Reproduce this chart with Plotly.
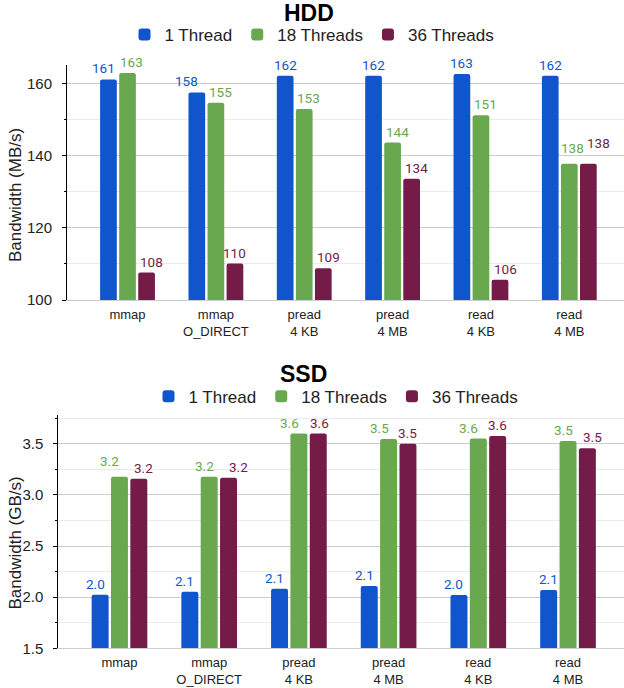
import plotly.graph_objects as go

categories = ["mmap", "mmap<br>O_DIRECT", "pread<br>4 KB", "pread<br>4 MB", "read<br>4 KB", "read<br>4 MB"]
series_names = ["1 Thread", "18 Threads", "36 Threads"]
colors = ["#1155cc", "#6aa84f", "#741b47"]

hdd_1 = [161.1, 157.5, 162.1, 162.1, 162.6, 162.1]
hdd_18 = [162.9, 154.6, 152.9, 143.6, 151.2, 137.7]
hdd_36 = [107.6, 110.1, 108.8, 133.6, 105.6, 137.7]

ssd_1 = [2.024, 2.053, 2.083, 2.109, 2.021, 2.070]
ssd_18 = [3.177, 3.177, 3.600, 3.546, 3.551, 3.526]
ssd_36 = [3.158, 3.168, 3.600, 3.500, 3.575, 3.455]

# label nudges in pixels (collision avoidance as in the reference)
hdd_dx = [[-5, -10, 0, 0, 0, 0], [4, 5, 4, 5, 4.5, 3], [5, 0, 5, 5, 5, 10]]
hdd_dy = [[0, 0, 0, 0, 0, 0], [0, 0, 0, 0, 0, 4.5], [0, 0, 0, 0, 0, 9.5]]
ssd_dx = [[-5, -5, -5, -5, -5, 0], [-10, -5, -9.5, -9.5, -9.5, -4.5], [5, 10, 1, 0, 0, 5]]
ssd_dy = [[0, 0, 0, 0, 0, 0], [4.5, 0, 0, 0, 0, 0], [0, 0, 0, 0, 0, 0]]

W, H = 624, 688
FONT = "Liberation Sans, Arial, sans-serif"
TXT = "#222222"
BARGAP = 0.353
GROUPGAP = 0.123
slot = (1 - BARGAP) / 3

fig = go.Figure()
annotations = []

def add_panel(series, xa, ya, legend, fmt, dxs, dys):
    for k, (name, vals, col) in enumerate(zip(series_names, series, colors)):
        fig.add_trace(go.Bar(
            x=categories, y=vals, name=name,
            marker=dict(color=col, cornerradius=2, line=dict(width=0)),
            xaxis=xa, yaxis=ya, legend=legend, hoverinfo="skip"))
        for i, v in enumerate(vals):
            annotations.append(dict(
                x=i + (k - 1) * slot, y=v, xref=xa, yref=ya,
                text=fmt.format(v), showarrow=False, xanchor="center", yanchor="bottom",
                xshift=dxs[k][i], yshift=1 + dys[k][i],
                font=dict(family="Roboto", size=13.5, color=col)))

add_panel([hdd_1, hdd_18, hdd_36], "x", "y", "legend", "{:.0f}", hdd_dx, hdd_dy)
add_panel([ssd_1, ssd_18, ssd_36], "x2", "y2", "legend2", "{:.1f}", ssd_dx, ssd_dy)

hdd_dom = [1 - 300 / H, 1 - 65.3 / H]
ssd_dom = [1 - 648.3 / H, 1 - 415.1 / H]

xcommon = dict(type="category", showgrid=False, zeroline=False, ticks="", showline=True,
               linecolor="#cccccc", linewidth=1, tickfont=dict(family=FONT, size=13, color=TXT),
               automargin=False, fixedrange=True, ticklabelstandoff=2)

ycommon = dict(showline=True, linecolor="black", linewidth=1, ticks="outside", ticklen=4,
               tickcolor="black", tickwidth=1, showgrid=True, gridcolor="#cccccc", gridwidth=1,
               zeroline=False, tickfont=dict(family=FONT, size=15, color=TXT),
               automargin=False, ticklabelstandoff=7, fixedrange=True)

annotations += [
    dict(text="<b>HDD</b>", x=309 / W, y=1 - 13.5 / H, xref="paper", yref="paper",
         xanchor="center", yanchor="middle", showarrow=False,
         font=dict(family=FONT, size=23, color="black")),
    dict(text="<b>SSD</b>", x=303.5 / W, y=1 - 373.5 / H, xref="paper", yref="paper",
         xanchor="center", yanchor="middle", showarrow=False,
         font=dict(family=FONT, size=23, color="black")),
    dict(text="Bandwidth (MB/s)", x=15.5 / W, y=1 - 195.5 / H, xref="paper", yref="paper",
         xanchor="center", yanchor="middle", showarrow=False, textangle=-90,
         font=dict(family=FONT, size=17, color=TXT)),
    dict(text="Bandwidth (GB/s)", x=15 / W, y=1 - 543.5 / H, xref="paper", yref="paper",
         xanchor="center", yanchor="middle", showarrow=False, textangle=-90,
         font=dict(family=FONT, size=17, color=TXT)),
]

fig.update_layout(
    width=W, height=H, template="none",
    margin=dict(l=0, r=0, t=0, b=0, pad=0),
    paper_bgcolor="white", plot_bgcolor="white",
    barmode="group", bargap=BARGAP, bargroupgap=GROUPGAP,
    showlegend=True,
    xaxis=dict(xcommon, domain=[67 / W, 1], range=[-0.685, 5.619], anchor="y"),
    yaxis=dict(ycommon, domain=hdd_dom, range=[100, 165], tick0=100, dtick=20, anchor="x",
               minor=dict(dtick=10, ticks="outside", ticklen=2.5, tickcolor="black",
                          showgrid=True, gridcolor="#ebebeb", gridwidth=1)),
    yaxis3=dict(overlaying="y", anchor="x", side="left", range=[100, 165], tick0=100, dtick=20,
                ticks="inside", ticklen=5, tickcolor="black", showticklabels=False,
                showgrid=False, showline=False, zeroline=False, automargin=False,
                minor=dict(dtick=10, ticks="inside", ticklen=3.5, tickcolor="black", showgrid=False)),
    xaxis2=dict(xcommon, domain=[58.3 / W, 1], range=[-0.682, 5.624], anchor="y2"),
    yaxis2=dict(ycommon, domain=ssd_dom, range=[1.5, 3.78], tick0=1.5, dtick=0.5, anchor="x2",
                tickformat=".1f",
                minor=dict(dtick=0.25, ticks="outside", ticklen=2.5, tickcolor="black",
                           showgrid=True, gridcolor="#ebebeb", gridwidth=1)),
    yaxis4=dict(overlaying="y2", anchor="x2", side="left", range=[1.5, 3.78], tick0=1.5, dtick=0.5,
                ticks="inside", ticklen=5, tickcolor="black", showticklabels=False,
                showgrid=False, showline=False, zeroline=False, automargin=False,
                minor=dict(dtick=0.25, ticks="inside", ticklen=3.5, tickcolor="black", showgrid=False)),
    legend=dict(orientation="h", x=312 / W, xanchor="center", y=1 - 35 / H, yanchor="middle",
                font=dict(family=FONT, size=17, color=TXT), bgcolor="rgba(0,0,0,0)",
                itemclick=False, itemdoubleclick=False),
    legend2=dict(orientation="h", x=336 / W, xanchor="center", y=1 - 396.7 / H, yanchor="middle",
                 font=dict(family=FONT, size=17, color=TXT), bgcolor="rgba(0,0,0,0)",
                 itemclick=False, itemdoubleclick=False),
    annotations=annotations,
)

fig.write_html("out.html", config={"displayModeBar": False},
               post_script="document.body.style.margin='0px';")
